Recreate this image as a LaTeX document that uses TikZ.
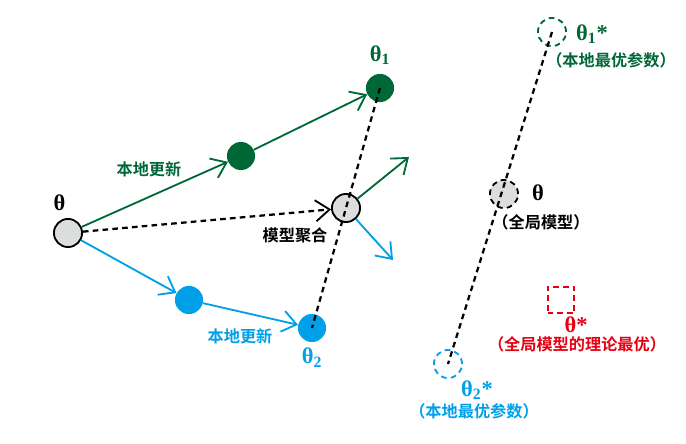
\documentclass[tikz,border=0pt]{standalone}
\usepackage{fontspec}
\newfontfamily\cjk{Noto Sans CJK SC}[BoldFont={Noto Sans CJK SC Bold}]
\newfontfamily\gk{Liberation Serif}
\usepackage{tikz}
\usetikzlibrary{arrows.meta,positioning}
\definecolor{locgreen}{RGB}{0,104,55}
\definecolor{locblue}{RGB}{0,160,233}
\definecolor{optred}{RGB}{230,0,18}
\definecolor{ballgrey}{RGB}{220,221,221}

\tikzset{
	ball/.style={shape=circle,minimum size=20pt,inner sep=0pt},
	greyball/.style={ball,draw=black,line width=1.3pt,fill=ballgrey},
	greenball/.style={ball,fill=locgreen},
	blueball/.style={ball,fill=locblue},
	optball/.style={ball,draw,line width=1.3pt,dash pattern=on 4pt off 3pt},
	upd/.style={line width=1.3pt,-{Straight Barb[length=10pt,width=15pt,line width=1.3pt]}},
	agg/.style={line width=1.6pt,dash pattern=on 4pt off 3pt},
	sym/.style={font=\gk\bfseries\fontsize{16}{16}\selectfont,inner sep=0pt},
	zh/.style={font=\cjk\bfseries\fontsize{11.5}{11.5}\selectfont,inner sep=0pt},
}

\begin{document}
\begin{tikzpicture}[x=0.025cm,y=-0.025cm]
		\useasboundingbox (0,0) rectangle (686,444);
		% left: local updates and aggregation
		\node(theta) [greyball] at (68,233) {};
		\node at (theta.north) [above=5pt,xshift=-6pt,sym] {θ};
		\node(g1) [greenball] at (241,156) {};
		\node(th1) [greenball] at (380,88) {};
		\node at (th1.north) [above=6pt,sym,text=locgreen] {θ\textsubscript{1}};
		\node(b1) [blueball] at (189,300) {};
		\node(th2) [blueball] at (312,328) {};
		\node at (th2.south) [below=4pt,sym,text=locblue] {θ\textsubscript{2}};
		\node(mix) [greyball] at (346,208) {};
		\coordinate(gout) at (409,157);
		\coordinate(bout) at (393,260);
		\draw [upd,locgreen] (theta) -- (g1);
		\draw [upd,locgreen] (g1) -- (th1);
		\draw [upd,locblue] (theta) -- (b1);
		\draw [upd,locblue] (b1) -- (th2);
		\draw [upd,locgreen] (mix) -- (gout);
		\draw [upd,locblue] (mix) -- (bout);
		\draw [agg,-{Straight Barb[length=10pt,width=15pt,line width=1.3pt]}] (theta) -- (mix);
		\draw [agg] (th1.center) -- (th2.center);
		\node(upg) [zh,text=locgreen] at (149,169) {本地更新};
		\node(upb) [zh,text=locblue] at (240,336) {本地更新};
		\node(aggl) [zh] at (295,235) {模型聚合};
		% right: optima
		\node(th1s) [optball,draw=locgreen] at (552,32) {};
		\node(thg) [optball,fill=ballgrey] at (504,194) {};
		\node(th2s) [optball,draw=locblue] at (448,364) {};
		\draw [agg] (th1s.center) -- (th2s.center);
		\node(thopt) [draw=optred,line width=1.3pt,dash pattern=on 4pt off 3pt,minimum size=19pt,inner sep=0pt] at (561,300) {};
		\node(l1) [sym,text=locgreen] at (592,34) {θ\textsubscript{1}*};
		\node(l1b) [zh,text=locgreen] at (611,60) {（本地最优参数）};
		\node(lg) [sym] at (538,193) {θ};
		\node(lgb) [zh] at (541,222) {（全局模型）};
		\node(l2) [sym,text=locblue] at (477,390) {θ\textsubscript{2}*};
		\node(l2b) [zh,text=locblue] at (474,411) {（本地最优参数）};
		\node(lo) [sym,text=optred] at (576,325) {θ*};
		\node(lob) [zh,text=optred] at (577,344) {（全局模型的理论最优）};
	\end{tikzpicture}
\end{document}
